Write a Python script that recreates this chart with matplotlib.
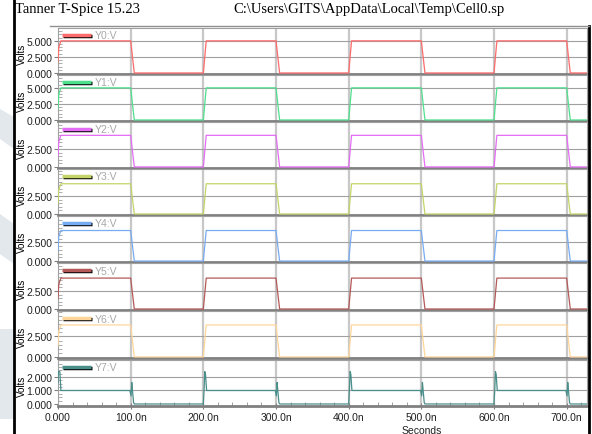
import numpy as np
import matplotlib
matplotlib.use("Agg")
import matplotlib.pyplot as plt
from matplotlib.ticker import MultipleLocator, FuncFormatter
from matplotlib.lines import Line2D
from matplotlib.patches import Polygon

# ---- data (time in ns, volts) ----
names = ["Y0:V", "Y1:V", "Y2:V", "Y3:V", "Y4:V", "Y5:V", "Y6:V", "Y7:V"]
colors = ["#ff6a6a", "#4fe08e", "#e46cf4", "#c4d468", "#78acf2", "#b45858", "#ffd69a", "#4a8e8a"]

# shared square-wave breakpoints (Y0..Y6)
edge_t = [0, 1, 4, 100, 105, 200, 204, 300, 305, 400, 404, 500, 505, 600, 604, 700, 705, 728]
edge_v = [0.35, 0.8, 1, 1, 0, 0, 1, 1, 0, 0, 1, 1, 0, 0, 1, 1, 0, 0]
high_level = [5.0, 5.0, 4.5, 4.2, 4.1, 4.3, 3.9]

# Y7 has spikes at each edge
y7_t = [0, 0.5, 2.5, 4, 99, 100.5, 101.5, 102.5, 104, 105, 200, 201, 202, 203, 204.5,
        299, 300.5, 301.5, 302.5, 304, 305, 400, 401, 402, 403, 404.5,
        499, 500.5, 501.5, 502.5, 504, 505, 600, 601, 602, 603, 604.5,
        699, 700.5, 701.5, 702.5, 704, 705, 728]
y7_v = [1.6, 2.4, 2.4, 1.0, 1.0, 0.6, 1.6, 1.0, 0.1, 0.0, 0.0, 1.0, 2.4, 2.2, 1.0,
        1.0, 0.6, 1.6, 1.0, 0.1, 0.0, 0.0, 1.0, 2.4, 2.2, 1.0,
        1.0, 0.6, 1.6, 1.0, 0.1, 0.0, 0.0, 1.0, 2.4, 2.2, 1.0,
        1.0, 0.6, 1.6, 1.0, 0.1, 0.0, 0.0]

y_limits = [(-0.16, 7.0), (-0.16, 7.0), (-0.15, 6.4), (-0.14, 6.25),
            (-0.13, 6.05), (-0.14, 6.4), (-0.13, 5.6), (-0.15, 3.26)]
y_ticks = [[0, 2.5, 5.0], [0, 2.5, 5.0], [0, 2.5], [0, 2.5], [0, 2.5], [0, 2.5], [0, 2.5],
           [0, 1.0, 2.0]]
x_ticks = [0, 100, 200, 300, 400, 500, 600, 700]
x_labels = ["0.000", "100.0n", "200.0n", "300.0n", "400.0n", "500.0n", "600.0n", "700.0n"]

W, H = 592, 435
fig = plt.figure(figsize=(W / 100, H / 100), dpi=100)
fig.patch.set_facecolor("white")
plt.rcParams['font.family'] = ['Liberation Sans', 'DejaVu Sans']

# faint watermark shapes at the left margin
for pts in [[(0, 110), (14, 118), (14, 150), (0, 140)],
            [(0, 215), (14, 225), (14, 265), (0, 255)],
            [(0, 330), (14, 330), (14, 420), (0, 420)]]:
    fig.patches.append(Polygon([(x / W, 1 - y / H) for x, y in pts], closed=True,
                               transform=fig.transFigure, facecolor="#e3e8ec",
                               edgecolor="none", zorder=0))

left, right = 58, 587
tops = [29, 76, 123, 170, 217, 264, 312, 361]
bots = [75, 122, 169, 216, 263, 311, 359, 407]

for i in range(8):
    ax = fig.add_axes([left / W, 1 - bots[i] / H, (right - left) / W, (bots[i] - tops[i]) / H])
    if i < 7:
        t = edge_t
        v = [high_level[i] * e for e in edge_v]
    else:
        t = y7_t
        v = y7_v
    ax.plot(t, v, color=colors[i], lw=0.9, zorder=3)
    ax.set_xlim(0, 728)
    ax.set_ylim(*y_limits[i])

    for xt in x_ticks[1:]:
        ax.axvline(xt, color="#c8c8c8", lw=1.6, zorder=1)
    for yt in y_ticks[i]:
        if yt != 0:
            ax.axhline(yt, color="#a0a0a0", lw=0.8, zorder=1)

    ax.set_yticks(y_ticks[i])
    ax.yaxis.set_major_formatter(FuncFormatter(lambda val, pos: "%.3f" % val))
    ax.yaxis.set_minor_locator(MultipleLocator(0.5 if i < 7 else 0.25))
    ax.tick_params(axis="y", which="major", direction="out", length=3, width=0.8,
                   color="#808080", labelsize=7.5, pad=1, labelcolor="#202020")
    ax.tick_params(axis="y", which="minor", direction="in", length=3, width=0.6,
                   color="#a0a0a0")
    ax.set_xticks(x_ticks)
    if i == 7:
        ax.set_xticklabels(x_labels)
        ax.xaxis.set_minor_locator(MultipleLocator(20))
        ax.tick_params(axis="x", which="major", direction="inout", length=4, width=0.8,
                       color="#808080", labelsize=7.5, pad=2, labelcolor="#202020")
        ax.tick_params(axis="x", which="minor", direction="in", length=3, width=0.6,
                       color="#909090")
    else:
        ax.tick_params(axis="x", which="both", length=0, labelbottom=False)

    for s in ["top", "right", "left"]:
        ax.spines[s].set_color("#a0a0a0")
        ax.spines[s].set_linewidth(0.8)
    ax.spines["bottom"].set_color("#808080")
    ax.spines["bottom"].set_linewidth(2.0)

    ax.set_ylabel("Volts", fontsize=7, labelpad=2)
    ax.yaxis.set_label_coords(-0.058, 0.45)

    # legend swatch: black shadow + coloured bar, then name
    ax.plot([0.01, 0.065], [0.82, 0.82], transform=ax.transAxes, color="black",
            lw=2.5, solid_capstyle="butt", zorder=5)
    ax.plot([0.007, 0.062], [0.855, 0.855], transform=ax.transAxes, color=colors[i],
            lw=2.5, solid_capstyle="butt", zorder=6)
    ax.text(0.07, 0.84, names[i], transform=ax.transAxes, fontsize=7.5,
            color="#a8a8a8", va="center", ha="left", zorder=6)

fig.text(422 / W, 1 - 431 / H, "Seconds", fontsize=7.5, ha="center", va="center",
         color="#202020")

# title row
fig.text(15 / W, 1 - 10 / H, "Tanner T-Spice 15.23", family="Liberation Serif",
         fontsize=10.5, ha="left", va="center")
fig.text(233 / W, 1 - 10 / H, r"C:\Users\GITS\AppData\Local\Temp\Cell0.sp",
         family="Liberation Serif", fontsize=10.5, ha="left", va="center")

# black frame lines
fig.add_artist(Line2D([14 / W, 14 / W], [0, 1], transform=fig.transFigure,
                      color="black", lw=2))
fig.add_artist(Line2D([589 / W, 589 / W], [0, 1 - 27 / H], transform=fig.transFigure,
                      color="black", lw=2))
fig.add_artist(Line2D([50 / W, 589 / W], [1 - 27 / H, 1 - 27 / H], transform=fig.transFigure,
                      color="#909090", lw=1))

fig.savefig("out.png", dpi=100)
